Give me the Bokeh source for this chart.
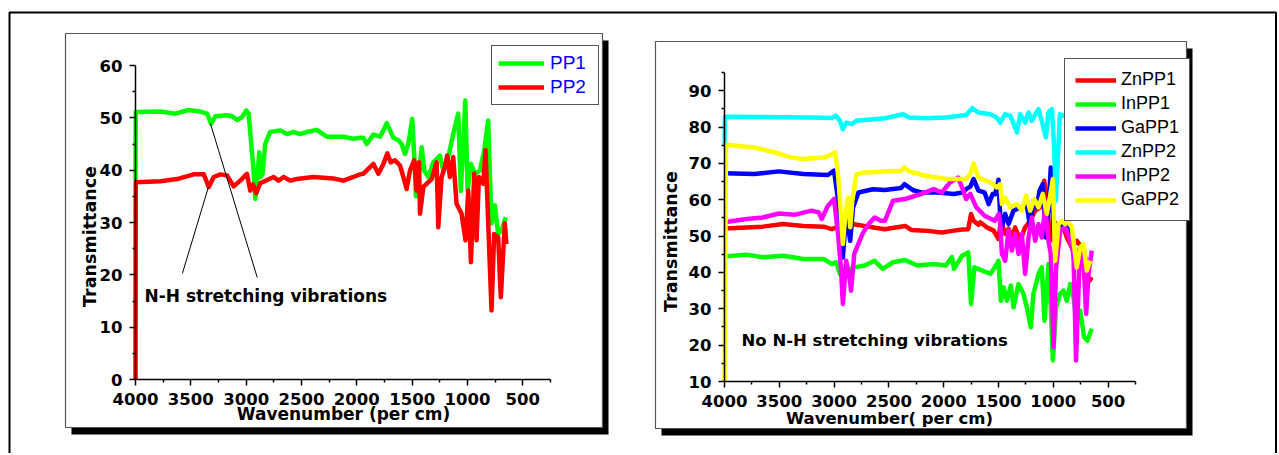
import math
from bokeh.plotting import figure
from bokeh.models import (Range1d, FixedTicker, Legend, LegendItem, Label, LinearAxis,
                          BoxAnnotation)
from bokeh.embed import file_html
from bokeh.resources import INLINE

# ---------------- data: left panel ----------------
pp1_wn = [4000, 3998, 3775, 3639, 3522, 3414, 3353, 3317, 3278, 3173, 3128, 3083, 3038, 2999, 2978,
          2957, 2933, 2918, 2903, 2882, 2867, 2852, 2828, 2783, 2692, 2632, 2572, 2512, 2452, 2362,
          2272, 2122, 2031, 1971, 1943, 1910, 1850, 1790, 1760, 1730, 1700, 1670, 1625, 1595, 1565,
          1535, 1499, 1481, 1466, 1438, 1414, 1390, 1354, 1309, 1249, 1219, 1174, 1129, 1084, 1060,
          1020, 999, 969, 933, 888, 849, 813, 783, 753, 723, 693, 654]
pp1_t = [38.0, 51.1, 51.2, 50.8, 51.5, 51.2, 50.8, 48.9, 50.3, 50.5, 50.3, 49.6, 50.1, 51.4, 50.8,
         45.7, 39.9, 34.5, 37.4, 43.4, 38.7, 39.3, 45.0, 47.3, 47.6, 46.9, 47.3, 46.9, 47.3, 47.7,
         46.4, 46.4, 46.0, 46.2, 46.2, 45.0, 46.8, 46.4, 47.6, 49.0, 47.6, 46.2, 45.7, 45.0, 43.1,
         45.0, 49.8, 42.5, 35.0, 39.3, 44.4, 39.9, 38.7, 41.5, 42.8, 39.9, 42.5, 46.9, 50.8, 36.0,
         53.3, 36.1, 41.2, 39.3, 39.9, 43.8, 49.5, 29.8, 33.3, 27.8, 28.5, 31.0]

pp2_wn = [4000, 3998, 3775, 3624, 3474, 3383, 3338, 3293, 3233, 3173, 3113, 3053, 2993, 2963, 2939,
          2909, 2873, 2752, 2707, 2662, 2602, 2542, 2392, 2212, 2122, 2031, 1971, 1943, 1850, 1805,
          1760, 1724, 1694, 1655, 1610, 1580, 1550, 1520, 1481, 1460, 1438, 1429, 1399, 1354, 1324,
          1279, 1264, 1234, 1204, 1183, 1159, 1129, 1099, 1054, 1018, 993, 969, 939, 918, 897,
          858, 837, 807, 783, 759, 723, 699, 663, 648]
pp2_t = [0.0, 37.7, 37.9, 38.3, 39.2, 39.2, 36.8, 38.7, 39.2, 39.0, 36.9, 38.0, 39.3, 36.1, 37.3,
         35.6, 37.5, 38.7, 38.0, 38.7, 38.0, 38.3, 38.7, 38.4, 38.0, 38.7, 39.2, 39.3, 41.2, 39.3,
         41.2, 43.2, 41.5, 41.9, 40.9, 38.7, 36.4, 39.9, 41.9, 36.1, 41.5, 31.7, 36.8, 37.7, 38.3,
         41.5, 29.1, 38.7, 40.6, 42.8, 38.7, 42.5, 33.6, 31.7, 26.6, 36.1, 22.4, 39.3, 26.6, 38.7,
         37.4, 43.8, 26.6, 13.2, 27.8, 27.2, 15.7, 29.8, 25.9]

left_names = ["PP1", "PP2"]
left_colors = ["#00FF00", "#FF0000"]

# pointer lines for the N-H annotation (start at text, end at the dips)
nh_x0 = [3576, 2900]
nh_y0 = [20.3, 19.5]
nh_x1 = [3342, 3323]
nh_y1 = [36.7, 48.9]

# ---------------- data: right panel ----------------
zn1_wn = [4000, 3651, 3466, 3280, 3094, 3020, 2983, 2834, 2723, 2537, 2351, 2296, 2166, 2017, 1906,
          1832, 1776, 1750, 1727, 1683, 1667, 1606, 1545, 1500, 1478, 1439, 1408, 1378, 1348, 1302,
          1257, 1211, 1165, 1120, 1083, 1059, 1029, 998, 953, 907, 877, 831, 786, 740, 700, 670, 649]
zn1_t = [52.1, 52.6, 53.3, 52.8, 52.6, 51.9, 52.4, 53.3, 52.8, 51.9, 52.8, 51.7, 51.5, 51.0, 51.5,
         51.8, 51.9, 56.1, 54.2, 53.1, 53.8, 52.4, 51.5, 49.2, 54.2, 50.6, 52.0, 49.6, 52.4, 48.7,
         52.4, 54.2, 57.0, 57.9, 65.2, 59.7, 48.7, 54.2, 52.4, 52.4, 49.6, 46.9, 48.7, 46.9, 41.4, 37.7, 38.7]

in1_wn = [4000, 3800, 3651, 3466, 3280, 3094, 3020, 2983, 2946, 2900, 2816, 2723, 2630, 2556, 2463,
          2351, 2240, 2091, 1980, 1924, 1906, 1832, 1776, 1750, 1720, 1646, 1572, 1516, 1500, 1478,
          1454, 1424, 1387, 1363, 1317, 1272, 1241, 1205, 1181, 1135, 1105, 1080, 1044, 1023, 1004,
          974, 937, 907, 877, 846, 816, 786, 755, 719, 688, 649]
in1_t = [44.4, 44.9, 44.2, 44.6, 43.7, 43.7, 42.3, 42.8, 39.6, 40.5, 41.4, 41.9, 43.2, 41.0, 42.8,
         43.4, 41.9, 42.3, 41.9, 44.2, 41.0, 44.6, 45.5, 31.3, 41.4, 40.5, 39.6, 42.3, 43.2, 32.2,
         35.9, 32.2, 36.4, 30.4, 36.8, 34.1, 30.4, 24.9, 34.1, 39.6, 41.4, 26.7, 42.3, 30.4, 15.8,
         30.4, 34.1, 35.0, 32.2, 36.8, 33.2, 26.7, 29.5, 22.2, 21.2, 24.5]

ga1_wn = [4000, 3726, 3503, 3280, 3057, 3001, 2975, 2946, 2920, 2890, 2853, 2827, 2778, 2648, 2537,
          2389, 2359, 2277, 2203, 2054, 1906, 1832, 1795, 1757, 1727, 1683, 1627, 1590, 1553, 1530,
          1500, 1478, 1439, 1408, 1363, 1302, 1241, 1211, 1181, 1150, 1126, 1096, 1068, 1044, 1023,
          998, 968, 937, 892, 846, 801, 755, 725, 694, 664]
ga1_t = [67.3, 67.1, 67.8, 67.1, 66.8, 68.0, 62.5, 55.1, 44.1, 56.1, 48.7, 57.9, 62.0, 62.9, 62.7,
         63.2, 64.3, 62.6, 62.0, 62.0, 61.6, 62.0, 62.9, 63.6, 65.7, 62.5, 62.0, 58.8, 61.6, 61.5,
         65.5, 51.5, 56.1, 53.3, 57.0, 57.9, 58.4, 52.4, 59.7, 57.9, 62.5, 64.3, 49.6, 57.9, 68.9,
         51.5, 44.1, 53.3, 53.3, 52.4, 41.4, 46.9, 46.9, 41.4, 42.8]

zn2_wn = [4000, 3996, 3500, 3200, 3020, 2983, 2946, 2920, 2890, 2834, 2797, 2537, 2370, 2314, 2166,
          1980, 1795, 1739, 1683, 1575, 1515, 1484, 1439, 1393, 1348, 1332, 1302, 1257, 1226, 1196,
          1165, 1135, 1105, 1068, 1044, 1013, 992, 977, 960, 940, 900, 800, 650]
zn2_t = [75.0, 82.8, 82.7, 82.6, 82.5, 83.1, 81.7, 79.4, 81.2, 80.8, 81.7, 82.4, 83.5, 82.6, 82.4,
         82.6, 83.3, 85.2, 84.0, 83.5, 82.6, 81.2, 83.5, 83.1, 79.9, 78.5, 83.5, 81.2, 84.0, 81.7,
         83.5, 84.9, 81.7, 77.1, 84.0, 84.9, 74.4, 59.7, 70.0, 83.5, 83.0, 83.0, 83.0]

in2_wn = [4000, 3800, 3651, 3503, 3354, 3206, 3139, 3113, 3057, 3001, 2964, 2938, 2920, 2890, 2864,
          2845, 2816, 2741, 2686, 2630, 2574, 2537, 2463, 2351, 2203, 2091, 2017, 1943, 1869, 1832,
          1795, 1757, 1702, 1627, 1535, 1497, 1484, 1469, 1439, 1408, 1378, 1348, 1317, 1287, 1257,
          1226, 1196, 1165, 1135, 1105, 1074, 1044, 1023, 998, 974, 937, 892, 846, 816, 792,
          761, 731, 700, 679, 649]
in2_t = [53.8, 54.7, 55.1, 56.2, 55.9, 57.0, 56.5, 54.7, 58.3, 60.2, 50.6, 41.4, 31.3, 43.2, 39.6,
         35.0, 45.1, 50.6, 53.3, 55.1, 54.2, 54.2, 59.7, 60.2, 61.6, 62.9, 62.0, 64.7, 66.1, 63.4,
         60.2, 61.6, 57.9, 55.6, 54.2, 56.1, 53.3, 45.1, 43.2, 51.5, 46.0, 50.6, 45.1, 50.6, 39.6,
         49.6, 55.1, 48.7, 53.3, 49.6, 57.9, 48.7, 45.1, 19.4, 41.4, 51.5, 52.4, 48.7, 45.1, 15.8,
         43.2, 46.9, 28.6, 39.6, 46.0]

ga2_wn = [4000, 3986, 3726, 3540, 3391, 3280, 3094, 3020, 2990, 2964, 2946, 2920, 2897, 2871, 2853,
          2834, 2797, 2723, 2537, 2389, 2359, 2314, 2166, 1980, 1795, 1757, 1727, 1683, 1575, 1515,
          1484, 1469, 1439, 1393, 1332, 1287, 1247, 1211, 1174, 1135, 1096, 1059, 1029, 1004, 983,
          953, 922, 892, 862, 831, 786, 755, 725, 694, 664]
ga2_t = [10.0, 75.1, 74.4, 73.0, 71.6, 71.2, 71.6, 72.5, 73.0, 67.0, 59.7, 47.8, 56.1, 60.6, 52.4,
         59.7, 67.0, 67.5, 67.8, 68.0, 68.9, 67.8, 66.6, 65.7, 65.7, 67.0, 70.0, 66.1, 64.8, 63.4,
         64.3, 58.8, 60.6, 57.9, 58.8, 57.0, 61.1, 57.0, 60.2, 57.9, 61.6, 56.1, 61.1, 65.7, 43.2,
         53.3, 54.2, 53.3, 53.8, 52.4, 41.4, 46.9, 47.8, 40.5, 43.2]

right_names = ["ZnPP1", "InPP1", "GaPP1", "ZnPP2", "InPP2", "GaPP2"]
right_colors = ["#FF0000", "#00FF00", "#0000FF", "#00FFFF", "#FF00FF", "#FFFF00"]
right_wn = [zn1_wn, in1_wn, ga1_wn, zn2_wn, in2_wn, ga2_wn]
right_t = [zn1_t, in1_t, ga1_t, zn2_t, in2_t, ga2_t]

x_major = [4000, 3500, 3000, 2500, 2000, 1500, 1000, 500]
x_minor = [3750, 3250, 2750, 2250, 1750, 1250, 750, 250]
left_y_major = [0, 10, 20, 30, 40, 50, 60]
left_y_minor = [5, 15, 25, 35, 45, 55]
right_y_major = [10, 20, 30, 40, 50, 60, 70, 80, 90]
right_y_minor = [15, 25, 35, 45, 55, 65, 75, 85, 95]

# ---------------- layout geometry (canvas pixels) ----------------
W, H = 1277, 453
BOLD = "DejaVu Sans"
LW = 4.5


def lin(p0, v0, p1, v1, p):
    return v0 + (p - p0) * (v1 - v0) / (p1 - p0)


def panel_ranges(px4000, px250, py_top, v_top, py_bot, v_bot):
    xr = Range1d(lin(px4000, 4000, px250, 250, 0), lin(px4000, 4000, px250, 250, W))
    yr = Range1d(lin(py_bot, v_bot, py_top, v_top, H), lin(py_bot, v_bot, py_top, v_top, 0))
    return xr, yr


p = figure(width=W, height=H, x_range=Range1d(0, W), y_range=Range1d(H, 0),
           output_backend="svg", toolbar_location=None, min_border=0,
           x_axis_location=None, y_axis_location=None)
p.outline_line_color = None
p.background_fill_color = "white"
p.border_fill_color = "white"
p.grid.visible = False

lx, ly = panel_ranges(135, 550, 65, 60, 379, 0)
rx, ry = panel_ranges(724, 1135, 72, 95, 381, 10)
p.extra_x_ranges = {"lx": lx, "rx": rx}
p.extra_y_ranges = {"ly": ly, "ry": ry}

# outer border and panel boxes with drop shadows
p.add_layout(BoxAnnotation(left=9, right=1275.5, top=12, bottom=H + 20, fill_alpha=0,
                           line_color="black", line_alpha=1, line_width=2, level="underlay"))
for (x0, x1, y0, y1) in [(65, 602, 33, 427), (655, 1186, 41, 428)]:
    p.add_layout(BoxAnnotation(left=x0 + 6, right=x1 + 6, top=y0 + 7, bottom=y1 + 7,
                               fill_color="black", fill_alpha=1, line_color=None,
                               level="underlay"))
    p.add_layout(BoxAnnotation(left=x0, right=x1, top=y0, bottom=y1, fill_color="white",
                               fill_alpha=1, line_color="#555555", line_alpha=1, line_width=1.2,
                               level="underlay"))


def add_axes(xname, yname, ymaj, ymin, ybounds):
    xa = LinearAxis(x_range_name=xname, y_range_name=yname, fixed_location=ybounds[0],
                    bounds=(250, 4000), ticker=FixedTicker(ticks=x_major, minor_ticks=x_minor))
    ya = LinearAxis(x_range_name=xname, y_range_name=yname, fixed_location=4000,
                    bounds=ybounds, ticker=FixedTicker(ticks=ymaj, minor_ticks=ymin))
    for ax in (xa, ya):
        ax.axis_line_color = "black"
        ax.axis_line_width = 1.5
        ax.major_tick_line_width = 1.5
        ax.minor_tick_line_width = 1.5
        ax.major_tick_out = 6
        ax.major_tick_in = 0
        ax.minor_tick_out = 3
        ax.minor_tick_in = 0
        ax.major_label_text_font = BOLD
        ax.major_label_text_font_style = "bold"
        ax.major_label_text_font_size = "16.5px"
        ax.major_label_text_color = "black"
        ax.major_label_standoff = 7
    p.add_layout(xa, "below")
    p.add_layout(ya, "left")


def title(text, x, y, size, angle=0.0, baseline="top"):
    p.add_layout(Label(x=x, y=y, text=text, angle=angle, text_font=BOLD, text_font_style="bold",
                       text_font_size=size, text_color="black", text_align="center",
                       text_baseline=baseline))


# ---------------- left panel ----------------
add_axes("lx", "ly", left_y_major, left_y_minor, (0, 60))
left_items = []
for name, col, xs, ys in zip(left_names, left_colors, [pp1_wn, pp2_wn], [pp1_t, pp2_t]):
    r = p.line(xs, ys, line_color=col, line_width=LW, line_join="round",
               x_range_name="lx", y_range_name="ly")
    left_items.append(LegendItem(label=name, renderers=[r]))
p.segment(nh_x0, nh_y0, nh_x1, nh_y1, line_color="black", line_width=1,
          x_range_name="lx", y_range_name="ly")
p.add_layout(Label(x=3919, y=15.9, x_range_name="lx", y_range_name="ly",
                   text="N-H stretching vibrations", text_font=BOLD, text_font_style="bold",
                   text_font_size="17px", text_color="black", text_align="left",
                   text_baseline="alphabetic"))
title("Wavenumber (per cm)", 343, 403, "17px")
title("Transmittance", 89, 236, "17.5px", angle=math.pi / 2, baseline="middle")
p.add_layout(Legend(items=left_items, location=(491, H - 105), margin=0, padding=6, spacing=2,
                    glyph_width=46, glyph_height=20, label_height=20, label_width=42,
                    label_standoff=6,
                    label_text_font="Liberation Sans", label_text_font_size="19px",
                    label_text_color="#0000FF", border_line_color="#555555",
                    border_line_width=1.2, border_line_alpha=1, background_fill_color="white",
                    background_fill_alpha=1.0))

# ---------------- right panel ----------------
add_axes("rx", "ry", right_y_major, right_y_minor, (10, 95))
right_items = []
for name, col, xs, ys in zip(right_names, right_colors, right_wn, right_t):
    r = p.line(xs, ys, line_color=col, line_width=LW, line_join="round",
               x_range_name="rx", y_range_name="ry")
    right_items.append(LegendItem(label=name, renderers=[r]))
p.add_layout(Label(x=3845, y=21.3, x_range_name="rx", y_range_name="ry",
                   text="No N-H stretching vibrations", text_font=BOLD, text_font_style="bold",
                   text_font_size="16.5px", text_color="black", text_align="left",
                   text_baseline="alphabetic"))
title("Wavenumber( per cm)", 889, 408, "16.5px")
title("Transmittance", 670, 241, "17.5px", angle=math.pi / 2, baseline="middle")
p.add_layout(Legend(items=right_items, location=(1064, H - 221), margin=0, padding=10, spacing=3,
                    glyph_width=41, glyph_height=20, label_height=20, label_standoff=5,
                    label_text_font="Liberation Sans", label_text_font_size="18px",
                    label_text_color="black", border_line_color="#555555",
                    border_line_width=1.2, border_line_alpha=1, background_fill_color="white",
                    background_fill_alpha=1.0))

open("out.html", "w").write(file_html(p, INLINE))
